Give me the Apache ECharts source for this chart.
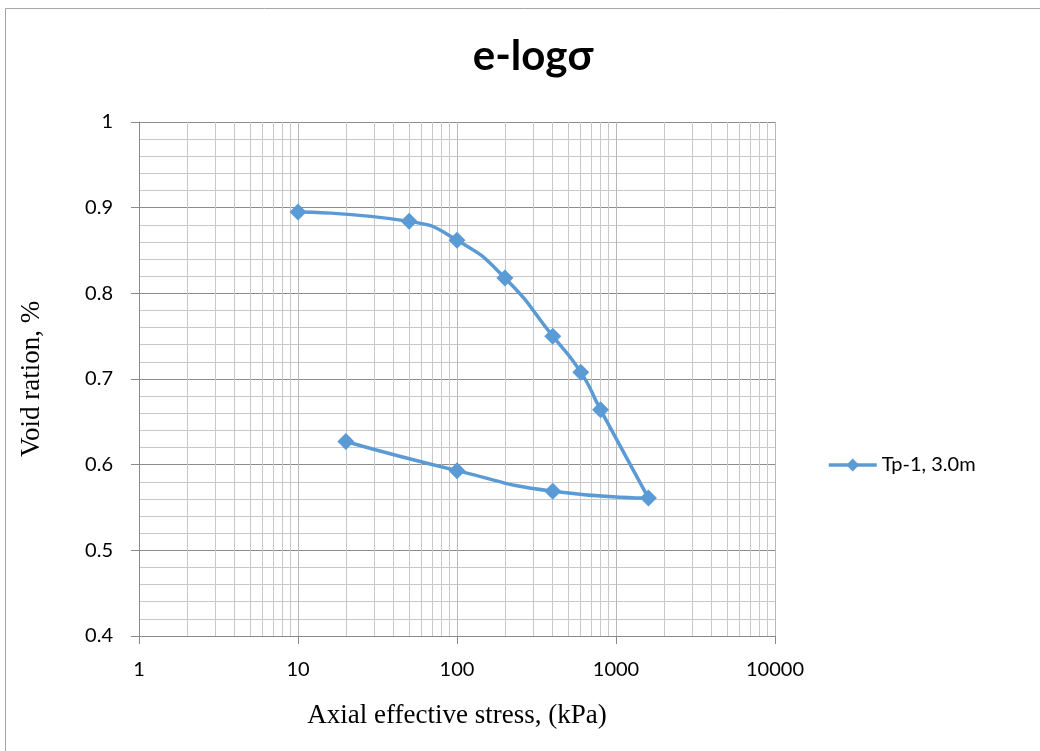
<!DOCTYPE html>
<html>
<head>
<meta charset="utf-8">
<script src="https://cdn.jsdelivr.net/npm/echarts@6/dist/echarts.min.js"></script>
<style>
  html, body { margin: 0; padding: 0; background: #fff; }
  #chart { width: 1040px; height: 751px; }
</style>
</head>
<body>
<div id="chart"></div>
<script>
// Oedometer test, sample Tp-1 at 3.0 m: loading then unloading path
const seriesName = 'Tp-1, 3.0m';
const stress = [10, 50, 100, 200, 400, 600, 800, 1600, 400, 100, 20];          // kPa
const voidRatio = [0.895, 0.884, 0.862, 0.818, 0.750, 0.708, 0.664, 0.561, 0.569, 0.593, 0.627];

// Log-scale minor grid positions (2..9 within each decade)
const minorStress = [2, 3, 4, 5, 6, 7, 8, 9,
  20, 30, 40, 50, 60, 70, 80, 90,
  200, 300, 400, 500, 600, 700, 800, 900,
  2000, 3000, 4000, 5000, 6000, 7000, 8000, 9000];

const points = stress.map((s, i) => [s, voidRatio[i]]);

const chart = echarts.init(document.getElementById('chart'), null, { renderer: 'canvas' });

chart.setOption({
  backgroundColor: '#ffffff',
  animation: false,
  title: {
    text: 'e-logσ',
    left: 528,
    textAlign: 'center',
    top: 30,
    textStyle: { fontFamily: 'Lato', fontWeight: 'bold', fontSize: 42, color: '#000' }
  },
  legend: {
    data: [seriesName],
    left: 822,
    top: 450,
    itemWidth: 48,
    itemHeight: 16,
    itemGap: 6,
    lineStyle: { width: 3.5 },
    textStyle: { fontFamily: 'Lato', fontSize: 20, color: '#000' }
  },
  grid: { left: 139, top: 122, width: 636, height: 514, containLabel: false },
  xAxis: {
    type: 'log',
    logBase: 10,
    min: 1,
    max: 10000,
    name: 'Axial effective stress, (kPa)',
    nameLocation: 'middle',
    nameGap: 66,
    nameTextStyle: { fontFamily: 'Liberation Serif', fontSize: 27, color: '#000' },
    axisLine: { lineStyle: { color: '#8a8a8a', width: 1 } },
    axisTick: { show: true, inside: false, length: 8, lineStyle: { color: '#8a8a8a' } },
    axisLabel: {
      margin: 24,
      fontFamily: 'Lato', fontSize: 20, color: '#000',
      formatter: v => String(v)
    },
    splitLine: { show: true, lineStyle: { color: '#b8b8b8', width: 1 } }
  },
  yAxis: {
    type: 'value',
    min: 0.4,
    max: 1,
    interval: 0.1,
    name: 'Void ration, %',
    nameLocation: 'middle',
    nameGap: 94,
    nameRotate: 90,
    nameTextStyle: { fontFamily: 'Liberation Serif', fontSize: 27, color: '#000' },
    axisLine: { show: true, lineStyle: { color: '#8a8a8a', width: 1 } },
    axisTick: { show: true, inside: false, length: 8, lineStyle: { color: '#8a8a8a' } },
    axisLabel: {
      margin: 26,
      fontFamily: 'Lato', fontSize: 20, color: '#000',
      formatter: v => String(Math.round(v * 10) / 10)
    },
    splitLine: { show: true, lineStyle: { color: '#8c8c8c', width: 1 } },
    minorTick: { show: false, splitNumber: 5 },
    minorSplitLine: { show: true, lineStyle: { color: '#c8c8c8', width: 1 } }
  },
  graphic: [
    {
      type: 'rect',
      shape: { x: 5.5, y: 8.5, width: 1100, height: 800 },
      style: { fill: 'none', stroke: '#a6a6a6', lineWidth: 1 },
      silent: true,
      z: 100
    }
  ],
  series: [
    {
      // vertical minor grid on the log axis
      name: 'minor-grid',
      type: 'line',
      data: [],
      silent: true,
      z: 1,
      markLine: {
        silent: true,
        symbol: 'none',
        label: { show: false },
        animation: false,
        lineStyle: { color: '#c8c8c8', type: 'solid', width: 1 },
        data: minorStress.map(v => ({ xAxis: v }))
      }
    },
    {
      name: seriesName,
      type: 'line',
      data: points,
      smooth: 0.55,
      symbol: 'diamond',
      symbolSize: 17,
      z: 5,
      lineStyle: { color: '#5b9bd5', width: 3.5 },
      itemStyle: { color: '#5b9bd5' }
    }
  ]
});
</script>
</body>
</html>
